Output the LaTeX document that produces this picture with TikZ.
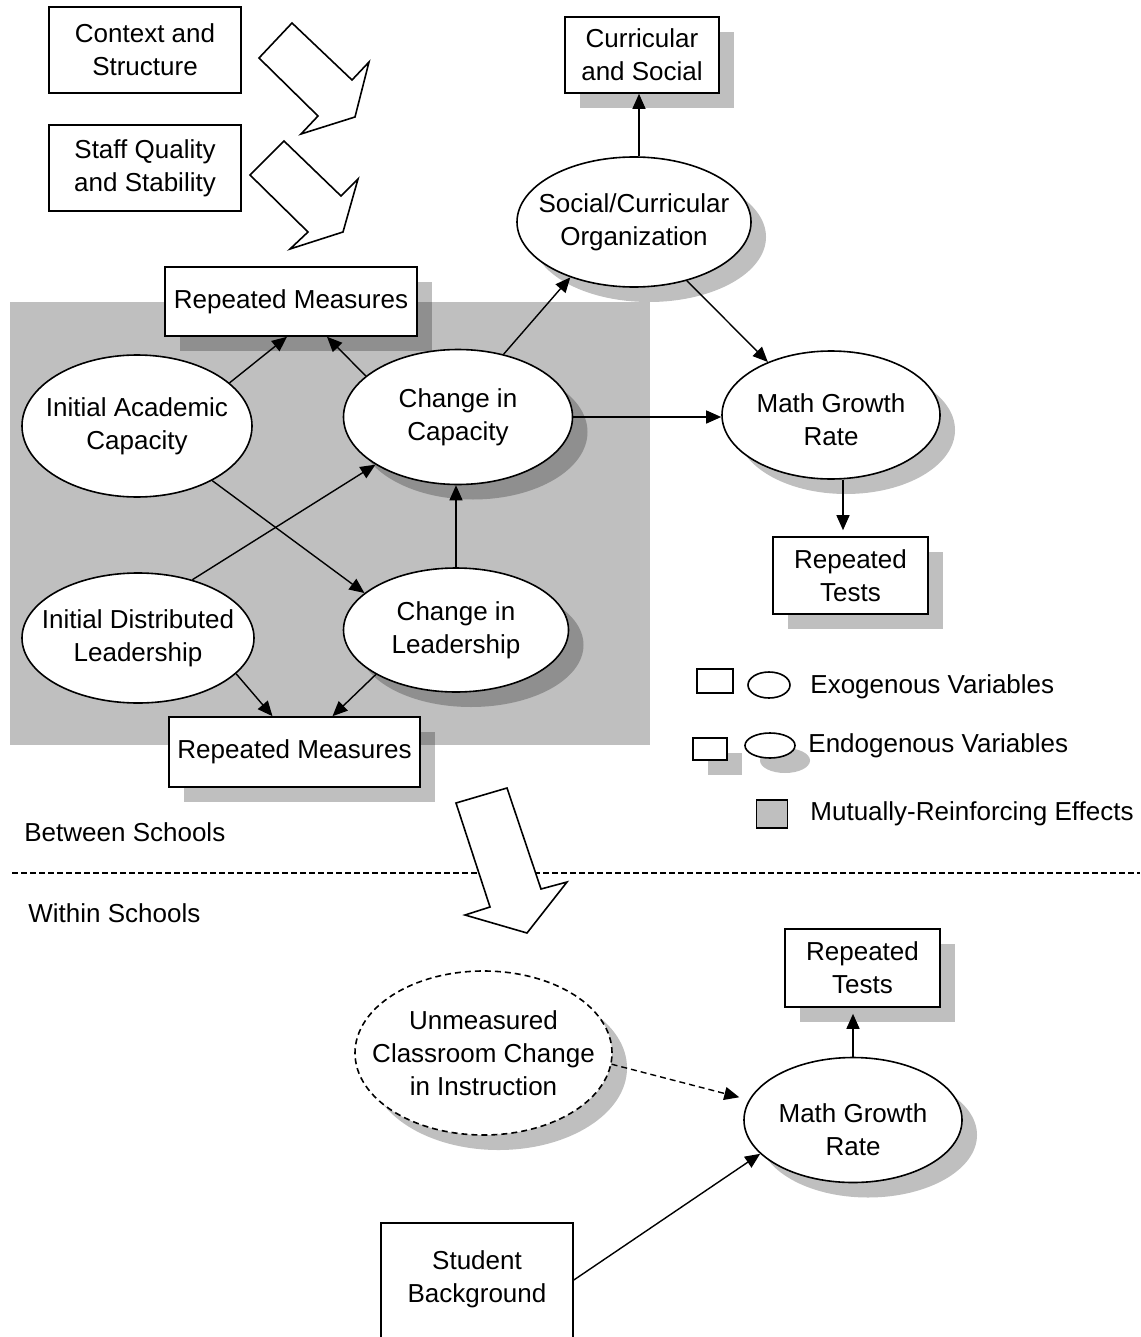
\documentclass[tikz,border=0pt]{standalone}
\usepackage{fontspec}
\setmainfont{Liberation Sans}
\usetikzlibrary{shapes.geometric,shadows,arrows.meta}

\begin{document}
\begin{tikzpicture}[x=0.5pt,y=-0.5pt,
  font=\fontsize{13}{16.5}\selectfont,
  >={Triangle[length=7.5pt,width=6.5pt]},
  conn/.style={->,line width=0.7pt},
  shad/.style={drop shadow={shadow xshift=7.5pt,shadow yshift=-7.5pt,fill=black,opacity=0.25}},
  box/.style={draw,line width=0.8pt,fill=white,inner sep=0pt,align=center},
  ell/.style={ellipse,draw,line width=0.8pt,fill=white,inner sep=0pt},
  blockarrow/.style={draw,line width=0.8pt,fill=white,line join=miter}]
\useasboundingbox (0,0) rectangle (1140,1337);

\fill[black!25] (10,302) rectangle (650,745);

\node[box,minimum width=96pt,minimum height=43pt] (ctx) at (145,50) {Context and\\Structure};
\node[box,minimum width=96pt,minimum height=43pt] (staff) at (145,168) {Staff Quality\\and Stability};
\node[box,shad,minimum width=126pt,minimum height=34.5pt] (rm1) at (291,301.5) {Repeated Measures};
\node[box,shad,minimum width=125.5pt,minimum height=35pt] (rm2) at (294.5,752) {Repeated Measures};
\node[box,shad,minimum width=77pt,minimum height=38pt] (cs) at (642,55) {Curricular\\and Social};
\node[ell,shad,minimum width=117pt,minimum height=65pt,
  label={[align=center]center:Social/Curricular\\Organization}] (sco) at (634,222) {};
\node[ell,minimum width=115pt,minimum height=71pt,
  label={[align=center]center:Initial Academic\\Capacity}] (iac) at (137,426) {};
\node[ell,shad,minimum width=114.5pt,minimum height=67.5pt,
  label={[align=center]center:Change in\\Capacity}] (cic) at (458,417) {};
\node[ell,minimum width=116pt,minimum height=65pt,
  label={[align=center]center:Initial Distributed\\Leadership}] (idl) at (138,638) {};
\node[ell,shad,minimum width=112.5pt,minimum height=62pt,
  label={[align=center]center:Change in\\Leadership}] (cil) at (456,630) {};
\node[ell,shad,minimum width=109pt,minimum height=64pt,
  label={[align=center,yshift=-2.5pt]center:Math Growth\\Rate}] (mgr1) at (831,415) {};
\node[box,shad,minimum width=77.5pt,minimum height=38.5pt] (rt1) at (850.5,575.5) {Repeated\\Tests};

% legend
\node[box,minimum width=18pt,minimum height=12pt] (exr) at (715,681) {};
\node[ell,minimum width=21pt,minimum height=13pt] (exe) at (769,685) {};
\node[anchor=west,inner sep=0pt] (ext) at (810,687) {Exogenous Variables};
\node[box,shad,minimum width=17pt,minimum height=11pt] (enr) at (710,749) {};
\node[ell,shad,minimum width=25pt,minimum height=12.5pt] (ene) at (770,745.5) {};
\node[anchor=west,inner sep=0pt] (ent) at (808,746) {Endogenous Variables};
\node[box,fill=black!25,minimum width=15.5pt,minimum height=14pt] (mrr) at (772,814) {};
\node[anchor=west,inner sep=0pt] (mrt) at (810,814) {Mutually-Reinforcing Effects};

\node[anchor=west,inner sep=0pt] (between) at (24,832) {Between Schools};
\node[anchor=west,inner sep=0pt] (within) at (28,913) {Within Schools};
\draw[dash pattern=on 3pt off 1.5pt,line width=0.7pt] (12,873) -- (1140,873);

\node[box,shad,minimum width=77.5pt,minimum height=39pt] (rt2) at (862.5,968) {Repeated\\Tests};
\node[ell,shad,dash pattern=on 3pt off 2pt,minimum width=128.5pt,minimum height=82pt,
  label={[align=center]center:Unmeasured\\Classroom Change\\in Instruction}] (um) at (483.5,1053) {};
\node[ell,shad,minimum width=109pt,minimum height=62.5pt,
  label={[align=center,yshift=-5pt]center:Math Growth\\Rate}] (mgr2) at (853,1120) {};
\node[box,minimum width=96pt,minimum height=61pt,
  label={[align=center,yshift=2.5pt]center:Student\\Background}] (sb) at (477,1284) {};

\draw[blockarrow] (292,23) -- (352,80) -- (369,62) -- (355,117) -- (301,134) -- (318,116) -- (259,58) -- cycle;
\draw[blockarrow] (284,141) -- (341,196) -- (358,179) -- (343,232) -- (290,249) -- (308,232) -- (250,175) -- cycle;
\draw[blockarrow] (456,803) -- (507,788) -- (541,889) -- (567,882) -- (527,933) -- (465,915) -- (490,907) -- cycle;

\draw[conn] (iac.25) -- ([xshift=-2pt]rm1.south);
\draw[conn] (cic.156) -- ([xshift=18pt]rm1.south);
\draw[conn] (cic.54) -- (sco.221);
\draw[conn] ([xshift=2.5pt]sco.north) -- ([xshift=2.5pt]sco.north |- cs.south);
\draw[conn] (sco.-48) -- (mgr1.140);
\draw[conn] (cic.east) -- (cic.east -| mgr1.west);
\draw[conn] (iac.-36) -- (cil.158);
\draw[conn] (idl.47) -- (cic.210);
\draw[conn] (cil.north) -- (cil.north |- cic.south);
\draw[conn] (idl.-20) -- ([xshift=-11pt]rm2.north);
\draw[conn] (cil.209) -- ([xshift=19pt]rm2.north);
\draw[conn,shorten >=3pt] ([xshift=6pt]mgr1.south) -- ([xshift=6pt]mgr1.south |- rt1.north);
\draw[conn,shorten >=3pt] (mgr2.north) -- (mgr2.north |- rt2.south);
\draw[conn,dash pattern=on 3pt off 2pt,shorten >=5pt] (um.-5) -- (mgr2.169);
\draw[conn] ([yshift=2pt]sb.east) -- (mgr2.200);
\end{tikzpicture}
\end{document}
